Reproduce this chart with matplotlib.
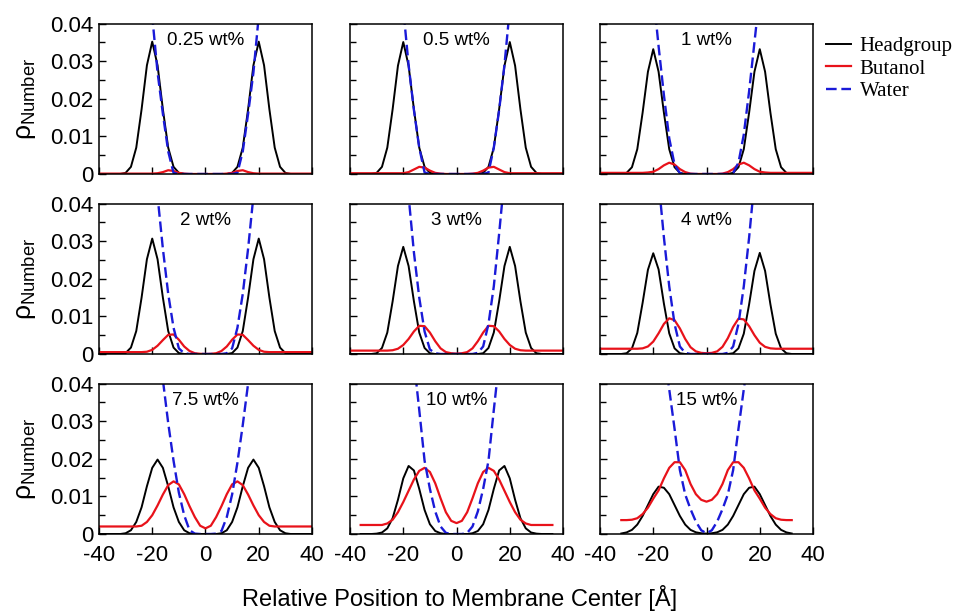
import numpy as np
import matplotlib
matplotlib.use("Agg")
import matplotlib.pyplot as plt
from matplotlib.ticker import MultipleLocator, FuncFormatter

plt.rcParams['font.family'] = ['Liberation Sans', 'DejaVu Sans']
plt.rcParams['mathtext.fontset'] = 'custom'
plt.rcParams['mathtext.rm'] = 'Liberation Sans'
plt.rcParams['mathtext.it'] = 'Liberation Sans'
plt.rcParams['axes.unicode_minus'] = False

# densities, in units of 1e-3
UNIT = 1e-3

x_full = list(range(-40, 41, 2))
x_10 = list(range(-36, 37, 2))
x_15 = list(range(-32, 33, 2))

labels = ['0.25 wt%', '0.5 wt%', '1 wt%',
          '2 wt%', '3 wt%', '4 wt%',
          '7.5 wt%', '10 wt%', '15 wt%']

# ---- 0.25 wt%
head_025 = [0, 0, 0, 0, 0, 0.3, 1.9, 7.0, 17.2, 28.9, 35.2, 28.9, 17.2, 7.0, 1.9, 0.3, 0, 0, 0, 0,
            0,
            0, 0, 0, 0, 0.3, 1.9, 7.0, 17.2, 28.9, 35.2, 28.9, 17.2, 7.0, 1.9, 0.3, 0, 0, 0, 0, 0]
buta_025 = [0.1, 0.1, 0.1, 0.1, 0.1, 0.1, 0.1, 0.1, 0.1, 0.1, 0.1, 0.2, 0.5, 1.0, 0.8, 0.3, 0.1, 0, 0, 0,
            0,
            0, 0, 0, 0.1, 0.3, 0.8, 1.0, 0.5, 0.2, 0.1, 0.1, 0.1, 0.1, 0.1, 0.1, 0.1, 0.1, 0.1, 0.1, 0.1]
water_025 = [90, 90, 89, 88, 86, 83, 78, 71, 62, 52, 42, 27, 16, 6, 0.3, 0, 0, 0, 0, 0,
             0,
             0, 0, 0, 0, 0, 0.3, 6, 16, 27, 42, 52, 62, 71, 78, 83, 86, 88, 89, 90, 90]

# ---- 0.5 wt%
head_05 = [0, 0, 0, 0, 0, 0.3, 1.9, 7.0, 17.2, 28.8, 35.1, 28.8, 17.2, 7.0, 1.9, 0.3, 0, 0, 0, 0,
           0,
           0, 0, 0, 0, 0.3, 1.9, 7.0, 17.2, 28.8, 35.1, 28.8, 17.2, 7.0, 1.9, 0.3, 0, 0, 0, 0, 0]
buta_05 = [0.2, 0.2, 0.2, 0.2, 0.2, 0.2, 0.2, 0.2, 0.2, 0.2, 0.2, 0.5, 1.2, 1.9, 1.7, 0.9, 0.3, 0.1, 0, 0,
           0,
           0, 0, 0.1, 0.3, 0.9, 1.7, 1.9, 1.2, 0.5, 0.2, 0.2, 0.2, 0.2, 0.2, 0.2, 0.2, 0.2, 0.2, 0.2, 0.2]
water_05 = [90, 90, 89, 88, 86, 83, 78, 72, 64, 55, 44, 29, 17, 7, 0.4, 0, 0, 0, 0, 0,
            0,
            0, 0, 0, 0, 0, 0.4, 7, 17, 29, 44, 55, 64, 72, 78, 83, 86, 88, 89, 90, 90]

# ---- 1 wt%
head_1 = [0, 0, 0, 0, 0, 0.3, 1.8, 6.6, 16.3, 27.2, 33.2, 27.2, 16.3, 6.6, 1.8, 0.3, 0, 0, 0, 0,
          0,
          0, 0, 0, 0, 0.3, 1.8, 6.6, 16.3, 27.2, 33.2, 27.2, 16.3, 6.6, 1.8, 0.3, 0, 0, 0, 0, 0]
buta_1 = [0.3, 0.3, 0.3, 0.3, 0.3, 0.3, 0.3, 0.3, 0.3, 0.4, 0.6, 1.3, 2.3, 3.0, 2.5, 1.3, 0.5, 0.1, 0, 0,
          0,
          0, 0, 0.1, 0.5, 1.3, 2.5, 3.0, 2.3, 1.3, 0.6, 0.4, 0.3, 0.3, 0.3, 0.3, 0.3, 0.3, 0.3, 0.3, 0.3]
water_1 = [90, 90, 89, 88, 86, 83, 79, 73, 66, 58, 48, 34, 21, 9.5, 2.5, 0.2, 0, 0, 0, 0,
           0,
           0, 0, 0, 0, 0.3, 3.0, 10.5, 22, 35, 48, 58, 66, 73, 79, 83, 86, 88, 89, 90, 90]

# ---- 2 wt%
head_2 = [0, 0, 0, 0, 0, 0.25, 1.7, 6.1, 15.0, 25.2, 30.7, 25.2, 15.0, 6.1, 1.7, 0.25, 0, 0, 0, 0,
          0,
          0, 0, 0, 0, 0.25, 1.7, 6.1, 15.0, 25.2, 30.7, 25.2, 15.0, 6.1, 1.7, 0.25, 0, 0, 0, 0, 0]
buta_2 = [0.5, 0.5, 0.5, 0.5, 0.5, 0.5, 0.5, 0.5, 0.5, 0.6, 1.1, 2.2, 3.7, 5.1, 5.2, 3.8, 2.0, 0.8, 0.2, 0.05,
          0,
          0.05, 0.2, 0.8, 2.0, 3.8, 5.2, 5.1, 3.7, 2.2, 1.1, 0.6, 0.5, 0.5, 0.5, 0.5, 0.5, 0.5, 0.5, 0.5, 0.5]
water_2 = [90, 90, 90, 90, 89, 87, 84, 80, 74, 66, 56, 42, 28, 16, 7, 1.5, 0.2, 0, 0, 0,
           0,
           0, 0, 0, 0.2, 1.5, 7, 16, 28, 42, 56, 66, 74, 80, 84, 87, 89, 90, 90, 90, 90]

# ---- 3 wt%
head_3 = [0, 0, 0, 0, 0, 0.2, 1.6, 5.7, 14.0, 23.4, 28.5, 23.4, 14.0, 5.7, 1.6, 0.2, 0, 0, 0, 0,
          0,
          0, 0, 0, 0, 0.2, 1.6, 5.7, 14.0, 23.4, 28.5, 23.4, 14.0, 5.7, 1.6, 0.2, 0, 0, 0, 0, 0]
buta_3 = [0.9, 0.9, 0.9, 0.9, 0.9, 0.9, 0.9, 0.9, 1.0, 1.4, 2.4, 4.0, 6.0, 7.5, 7.4, 5.7, 3.4, 1.5, 0.5, 0.2,
          0.1,
          0.2, 0.5, 1.5, 3.4, 5.7, 7.5, 7.4, 6.0, 4.0, 2.4, 1.4, 1.0, 0.9, 0.9, 0.9, 0.9, 0.9, 0.9, 0.9, 0.9]
water_3 = [90, 90, 90, 90, 89, 88, 85, 81, 75, 67, 57, 42, 27, 15, 6, 1.2, 0.2, 0, 0, 0,
           0,
           0, 0, 0, 0.3, 2, 8, 18, 32, 47, 60, 69, 76, 82, 85, 88, 89, 90, 90, 90, 90]

# ---- 4 wt%
head_4 = [0, 0, 0, 0, 0, 0.2, 1.5, 5.6, 13.6, 22.4, 26.8, 22.5, 13.4, 5.5, 1.5, 0.2, 0, 0, 0, 0,
          0,
          0, 0, 0, 0, 0.2, 1.5, 5.4, 13.2, 22.1, 26.9, 22.1, 13.2, 5.4, 1.5, 0.2, 0, 0, 0, 0, 0]
buta_4 = [1.4, 1.4, 1.4, 1.4, 1.4, 1.4, 1.4, 1.4, 1.5, 2.0, 3.3, 5.5, 8.0, 9.5, 9.0, 6.8, 4.0, 1.8, 0.7, 0.3,
          0.2,
          0.3, 0.7, 1.9, 4.2, 7.2, 9.4, 9.2, 7.4, 5.0, 3.0, 1.9, 1.5, 1.4, 1.4, 1.4, 1.4, 1.4, 1.4, 1.4, 1.4]
water_4 = [90, 90, 90, 90, 89, 88, 86, 82, 77, 70, 60, 46, 31, 18, 8, 2, 0.3, 0, 0, 0,
           0,
           0, 0, 0, 0.3, 2, 8, 18, 31, 46, 60, 70, 77, 82, 86, 88, 89, 90, 90, 90, 90]

# ---- 7.5 wt%
head_75 = [0, 0, 0, 0, 0, 0.2, 1.0, 3.2, 7.1, 12.7, 17.6, 19.8, 17.6, 12.7, 7.1, 3.2, 1.0, 0.2, 0, 0,
           0,
           0, 0, 0.2, 1.0, 3.2, 7.1, 12.7, 17.6, 19.8, 17.6, 12.7, 7.1, 3.2, 1.0, 0.2, 0, 0, 0, 0, 0]
buta_75 = [2.0, 2.0, 2.0, 2.0, 2.0, 2.0, 2.0, 2.0, 2.2, 3.2, 5.0, 7.6, 10.5, 13.0, 14.0, 13.2, 10.6, 7.4, 4.5, 2.2,
           1.5,
           2.2, 4.5, 7.4, 10.6, 13.2, 14.0, 13.0, 10.5, 7.6, 5.0, 3.2, 2.2, 2.0, 2.0, 2.0, 2.0, 2.0, 2.0, 2.0, 2.0]
water_75 = [90, 90, 90, 90, 90, 89, 87, 84, 79, 73, 65, 54, 41, 29.5, 19.5, 11, 5, 1.0, 0.1, 0,
            0,
            0, 0.1, 0.8, 4.5, 10.5, 19, 29, 40, 53, 64, 72, 79, 84, 87, 89, 90, 90, 90, 90, 90]

# ---- 10 wt%
head_10 = [0, 0, 0, 0.1, 0.4, 1.5, 4.2, 9.1, 14.8, 18.1, 16.9, 12.0, 6.4, 2.6, 0.8, 0.2, 0, 0,
           0,
           0, 0, 0.2, 0.8, 2.6, 6.4, 12.0, 16.9, 18.1, 14.8, 9.1, 4.2, 1.5, 0.4, 0.1, 0, 0, 0]
buta_10 = [2.4, 2.4, 2.4, 2.4, 2.4, 2.8, 3.8, 5.8, 8.5, 11.5, 14.5, 16.8, 17.6, 16.5, 13.5, 9.5, 5.8, 3.5,
           2.9,
           3.5, 5.8, 9.5, 13.5, 16.5, 17.6, 16.8, 14.5, 11.5, 8.5, 5.8, 3.8, 2.8, 2.4, 2.4, 2.4, 2.4, 2.4]
water_10 = [90, 90, 90, 89, 87, 84, 80, 74, 67, 58, 46, 33, 19.5, 12, 6, 2, 0.3, 0,
            0,
            0, 0.3, 2, 6, 12, 19.5, 33, 46, 58, 67, 74, 80, 84, 87, 89, 90, 90, 90]

# ---- 15 wt%
head_15 = [0.14, 0.43, 1.1, 2.5, 4.8, 7.7, 10.6, 12.6, 12.3, 10.6, 7.7, 4.8, 2.5, 1.1, 0.45, 0.2,
           0.1,
           0.2, 0.45, 1.1, 2.5, 4.8, 7.7, 10.6, 12.3, 12.6, 10.6, 7.7, 4.8, 2.5, 1.1, 0.43, 0.14]
buta_15 = [3.7, 3.7, 3.8, 4.2, 5.3, 7.0, 9.4, 11.6, 14.8, 17.6, 19.1, 19.1, 17.0, 13.3, 10.6, 9.1,
           8.6,
           9.1, 10.6, 13.3, 17.0, 19.1, 19.1, 17.6, 14.8, 11.6, 9.4, 7.0, 5.3, 4.2, 3.8, 3.7, 3.7]
water_15 = [89, 88, 86, 83, 78, 73, 66, 58, 49, 38.5, 28, 17, 10.5, 6.6, 3.3, 1.0,
            0.2,
            1.0, 3.3, 6.6, 10.5, 17, 28, 38.5, 49, 58, 66, 73, 78, 83, 86, 88, 89]

xs = [x_full] * 7 + [x_10, x_15]
heads = [head_025, head_05, head_1, head_2, head_3, head_4, head_75, head_10, head_15]
butas = [buta_025, buta_05, buta_1, buta_2, buta_3, buta_4, buta_75, buta_10, buta_15]
waters = [water_025, water_05, water_1, water_2, water_3, water_4, water_75, water_10, water_15]

fig = plt.figure(figsize=(9.6, 6.15), dpi=100)

lefts = [0.1031, 0.3646, 0.625]
bottoms = [0.7171, 0.4244, 0.1317]
w, h = 0.2219, 0.2445

handles = None
for i in range(9):
    r, c = divmod(i, 3)
    ax = fig.add_axes([lefts[c], bottoms[r], w, h])
    x = np.array(xs[i])
    l1, = ax.plot(x, np.array(heads[i]) * UNIT, color='black', lw=1.4)
    l2, = ax.plot(x, np.array(butas[i]) * UNIT, color='#e8121a', lw=1.6)
    l3, = ax.plot(x, np.array(waters[i]) * UNIT, color='#1a1ad8', lw=1.7,
                  dashes=(4.5, 2))
    if handles is None:
        handles = [l1, l2, l3]
    ax.set_xlim(-40, 40)
    ax.set_ylim(0, 0.04)
    ax.xaxis.set_major_locator(MultipleLocator(20))
    ax.yaxis.set_major_locator(MultipleLocator(0.01))
    ax.yaxis.set_minor_locator(MultipleLocator(0.005))
    ax.tick_params(which='both', direction='in', top=False, right=False,
                   labelsize=16, width=1)
    ax.tick_params(which='major', length=5)
    ax.tick_params(which='minor', length=4)
    ax.tick_params(axis='x', pad=8)
    ax.tick_params(axis='y', pad=4)
    ax.yaxis.set_major_formatter(FuncFormatter(lambda v, p: '0' if abs(v) < 1e-9 else f'{v:.2f}'))
    if c != 0:
        ax.tick_params(axis='y', labelleft=False)
    if r != 2:
        ax.tick_params(axis='x', labelbottom=False)
    for s in ax.spines.values():
        s.set_linewidth(1.1)
    ax.text(0.5, 0.89, labels[i], transform=ax.transAxes, ha='center',
            va='center', fontsize=13.5)

for yc in [0.839, 0.547, 0.254]:
    fig.text(0.027, yc, r'$\rho_{\rm Number}$', rotation=90, ha='center',
             va='center', fontsize=19)

fig.text(0.479, 0.028, 'Relative Position to Membrane Center [Å]',
         ha='center', va='center', fontsize=17)

fig.legend(handles, ['Headgroup', 'Butanol', 'Water'], loc='upper left',
           bbox_to_anchor=(0.85, 0.958), frameon=False, borderpad=0,
           handlelength=1.2, handletextpad=0.4, labelspacing=0.15,
           prop={'family': 'Liberation Serif', 'size': 15})

fig.savefig('out.png', dpi=100)
